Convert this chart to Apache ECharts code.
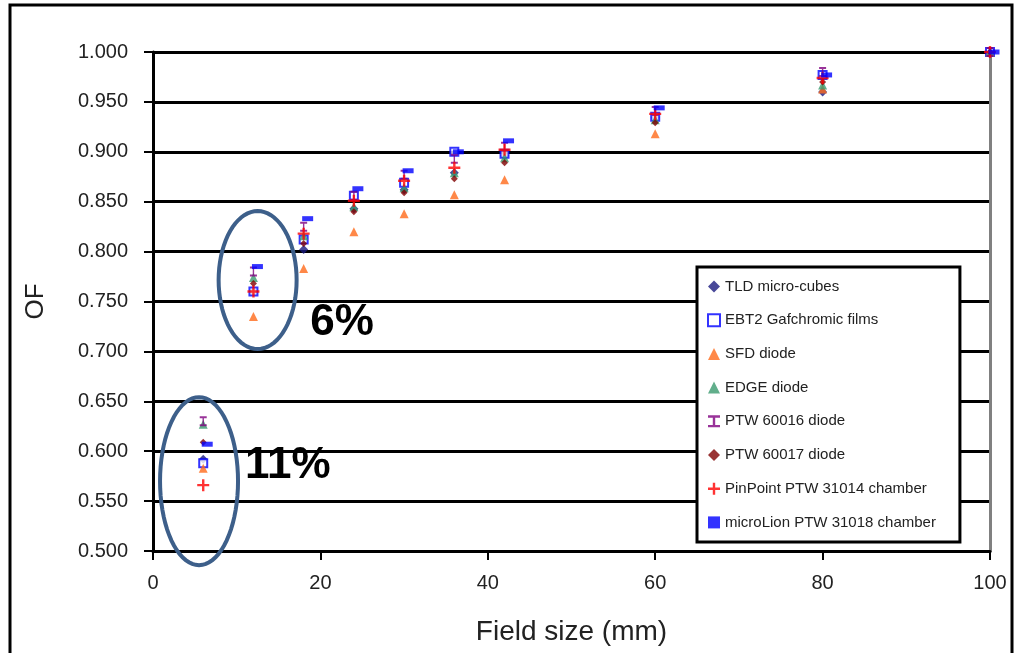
<!DOCTYPE html>
<html>
<head>
<meta charset="utf-8">
<script src="https://cdn.jsdelivr.net/npm/echarts@6/dist/echarts.min.js"></script>
<style>
  html, body { margin: 0; padding: 0; background: #fff; }
  #main { width: 1015px; height: 653px; }
</style>
</head>
<body>
<div id="main"></div>
<script>
// field sizes (mm) measured
var fieldSize = [6, 12, 18, 24, 30, 36, 42, 60, 80, 100];

// output factors, one list per detector
var tld       = [0.592, 0.760, 0.802, 0.843, 0.862, 0.879, 0.896, 0.934, 0.960, 1.000];
var ebt2      = [0.588, 0.760, 0.812, 0.856, 0.869, 0.900, 0.898, 0.935, 0.977, 1.000];
var sfd       = [0.583, 0.735, 0.783, 0.820, 0.838, 0.857, 0.872, 0.918, 0.963, 1.000];
var edge      = [0.627, 0.774, 0.816, 0.845, 0.864, 0.879, 0.894, 0.932, 0.967, 1.000];
var ptw60016  = [0.630, 0.780, 0.825, 0.856, 0.877, 0.893, 0.905, 0.941, 0.980, 1.000];
var ptw60017  = [0.609, 0.768, 0.808, 0.840, 0.859, 0.873, 0.889, 0.929, 0.970, 1.000];
var pinPoint  = [0.566, 0.760, 0.818, 0.851, 0.871, 0.884, 0.902, 0.938, 0.974, 1.000];
var microLion = [0.607, 0.785, 0.833, 0.863, 0.881, 0.900, 0.911, 0.944, 0.977, 1.000];

var seriesNames = [
    'TLD micro-cubes',
    'EBT2 Gafchromic films',
    'SFD diode',
    'EDGE diode',
    'PTW 60016 diode',
    'PTW 60017 diode',
    'PinPoint PTW 31014 chamber',
    'microLion PTW 31018 chamber'
];

// axis ticks
var xTicks = { min: 0, max: 100, step: 20 };
var yTicks = { min: 0.5, max: 1.0, step: 0.05 };

// annotations: [x, y] in data units, label text
var notes = [
    { center: [12.5, 0.7715], text: '6%',  textAt: [22.6, 0.7285] },
    { center: [5.5,  0.570],  text: '11%', textAt: [16.1, 0.585] }
];

var FONT = '"Liberation Sans", Arial, sans-serif';

var toPoints = function (ys) {
    return fieldSize.map(function (x, i) { return [x, ys[i]]; });
};

var makeSeries = function (name, ys, symbol, size, style, extra) {
    var s = {
        name: name,
        type: 'scatter',
        data: toPoints(ys),
        symbol: symbol,
        symbolSize: size,
        itemStyle: style,
        clip: false,
        emphasis: { disabled: true }
    };
    if (extra) { for (var k in extra) s[k] = extra[k]; }
    return s;
};

var chart = echarts.init(document.getElementById('main'));

var option = {
    animation: false,
    backgroundColor: '#fff',
    grid: { left: 153, right: 25, top: 52, bottom: 102, outerBoundsMode: 'none', containLabel: false },
    legend: {
        orient: 'vertical',
        left: 697,
        top: 267,
        padding: [12, 24, 12, 10],
        itemGap: 18.7,
        itemWidth: 12,
        itemHeight: 12,
        backgroundColor: '#fff',
        borderColor: '#000',
        borderWidth: 3,
        borderRadius: 0,
        textStyle: { fontFamily: FONT, fontSize: 15, color: '#222', lineHeight: 14 },
        data: seriesNames
    },
    xAxis: {
        type: 'value',
        min: xTicks.min,
        max: xTicks.max,
        interval: xTicks.step,
        name: 'Field size (mm)',
        nameLocation: 'middle',
        nameGap: 67,
        nameTextStyle: { fontFamily: FONT, fontSize: 28, color: '#222' },
        axisLine: { onZero: false, lineStyle: { color: '#000', width: 3 } },
        axisTick: { show: true, length: 9, lineStyle: { color: '#000', width: 2 } },
        axisLabel: { fontFamily: FONT, fontSize: 20, color: '#222', margin: 22 },
        splitLine: { show: false }
    },
    yAxis: [{
        type: 'value',
        min: yTicks.min,
        max: yTicks.max,
        interval: yTicks.step,
        name: 'OF',
        nameLocation: 'middle',
        nameGap: 104,
        nameTextStyle: { fontFamily: FONT, fontSize: 26, color: '#222' },
        axisLine: { show: true, lineStyle: { color: '#000', width: 3 } },
        axisTick: { show: true, length: 9, lineStyle: { color: '#000', width: 2 } },
        axisLabel: {
            fontFamily: FONT, fontSize: 20, color: '#222', margin: 25,
            formatter: function (v) { return v.toFixed(3); }
        },
        splitLine: { show: true, lineStyle: { color: '#000', width: 3 } }
    }, {
        // right edge of the plot area
        type: 'value',
        position: 'right',
        min: yTicks.min,
        max: yTicks.max,
        interval: yTicks.step,
        axisLine: { show: true, lineStyle: { color: '#808080', width: 3 } },
        axisTick: { show: false },
        axisLabel: { show: false },
        splitLine: { show: false }
    }],
    series: [
        makeSeries(seriesNames[0], tld, 'diamond', 9, { color: '#1a1a80' }),
        makeSeries(seriesNames[1], ebt2, 'rect', 8, { color: '#fff', borderColor: '#0000ff', borderWidth: 2 }),
        makeSeries(seriesNames[2], sfd, 'triangle', 9, { color: '#ff6a1a' }),
        makeSeries(seriesNames[3], edge, 'triangle', 9, { color: '#3a9a6e' }),
        makeSeries(seriesNames[4], ptw60016, 'path://M0,0H10V2H6V8H10V10H0V8H4V2H0Z', [7, 10], { color: '#800080' }),
        makeSeries(seriesNames[5], ptw60017, 'diamond', 7, { color: '#800000' }),
        makeSeries(seriesNames[6], pinPoint, 'path://M4,0H6V4H10V6H6V10H4V6H0V4H4Z', 12, { color: '#ff0000' }),
        makeSeries(seriesNames[7], microLion, 'rect', [11, 5], { color: '#0000ff' }, { symbolOffset: [4, 0] })
    ]
};

chart.setOption(option);

// ellipses and percentage labels, placed through the chart's own scales
var ellipsePoints = function (cx, cy, rx, ry) {
    var pts = [];
    for (var i = 0; i < 72; i++) {
        var a = i / 72 * Math.PI * 2;
        pts.push([cx + rx * Math.cos(a), cy + ry * Math.sin(a)]);
    }
    return pts;
};

var radii = [[39, 69], [39, 84]];
var graphics = [{
    // frame around the whole picture
    type: 'rect',
    shape: { x: 10, y: 5, width: 1002, height: 700 },
    style: { fill: 'none', stroke: '#000', lineWidth: 3 },
    silent: true
}];

notes.forEach(function (n, i) {
    var c = chart.convertToPixel({ gridIndex: 0 }, n.center);
    var t = chart.convertToPixel({ gridIndex: 0 }, n.textAt);
    graphics.push({
        type: 'polygon',
        shape: { points: ellipsePoints(c[0], c[1], radii[i][0], radii[i][1]) },
        style: { fill: 'none', stroke: '#3d5f8a', lineWidth: 4 },
        z: 10,
        silent: true
    });
    graphics.push({
        type: 'text',
        x: t[0],
        y: t[1],
        style: {
            text: n.text,
            fill: '#000',
            font: 'bold 44px ' + FONT,
            textAlign: 'center',
            textVerticalAlign: 'middle'
        },
        z: 10,
        silent: true
    });
});

chart.setOption({ graphic: graphics });
</script>
</body>
</html>
